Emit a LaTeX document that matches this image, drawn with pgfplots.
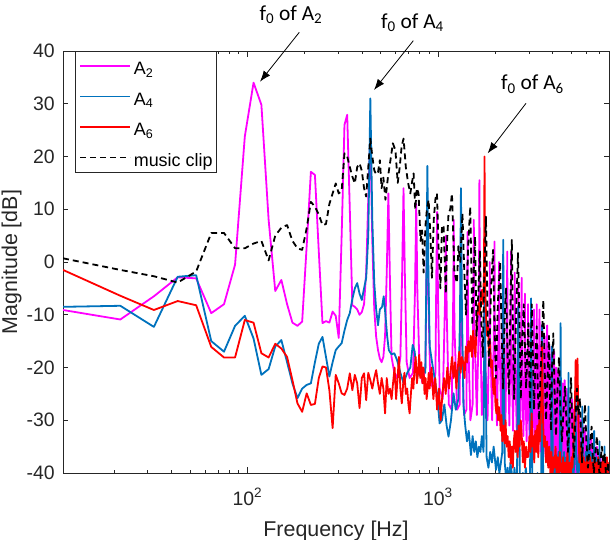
\documentclass[border=0pt]{standalone}
\usepackage{pgfplots}
\pgfplotsset{compat=1.18}
\usetikzlibrary{arrows.meta}
\usepackage{fontspec}
\setmainfont{Liberation Sans}
\newfontfamily\annot{Carlito}
\definecolor{axgray}{rgb}{0.15,0.15,0.15}
\definecolor{mpink}{rgb}{1,0,1}
\definecolor{mblue}{rgb}{0,0.447,0.741}
\definecolor{mred}{rgb}{1,0,0}
\begin{document}
\begin{tikzpicture}
\useasboundingbox (0,0) rectangle (612bp,540bp);
\begin{axis}[
  at={(63bp,67bp)}, anchor=south west,
  width=546bp, height=422bp, scale only axis,
  xmode=log, xmin=10.77, xmax=7900, ymin=-40, ymax=40,
  xtick={100,1000}, xticklabels={10\textsuperscript{2},10\textsuperscript{3}},
  minor xtick={20,30,40,50,60,70,80,90,200,300,400,500,600,700,800,900,2000,3000,4000,5000,6000,7000},
  ytick={-40,-30,-20,-10,0,10,20,30,40},
  yticklabels={-40,-30,-20,-10,0,10,20,30,40},
  tick align=inside, major tick length=5.5bp, minor tick length=3bp,
  axis line style={draw=axgray, line width=0.7bp},
  every tick/.style={draw=axgray, line width=0.7bp},
  tick label style={font=\fontsize{19.5}{22}\selectfont, color=axgray, inner sep=0pt},
  yticklabel style={xshift=-8bp},
  xticklabel style={yshift=-15bp},
  xlabel={Frequency [Hz]}, ylabel={Magnitude [dB]},
  label style={font=\fontsize{21.5}{25}\selectfont, color=axgray, inner sep=0pt},
  xlabel style={at={(axis description cs:0.5,-0.15166)}, anchor=base},
  ylabel style={at={(axis description cs:-0.08425,0.5)}, anchor=base},
  legend cell align=left,
  legend style={at={(axis description cs:0.022,1)}, anchor=north west,
    draw=axgray, line width=0.6bp, fill=white,
    font=\fontsize{18}{20}\selectfont,
    inner xsep=4bp, inner ysep=6.3bp, row sep=13.5bp, column sep=3bp,
    nodes={inner sep=0pt, text height=17bp, text depth=0bp}},
  legend image code/.code={\draw[#1, line width=1.5bp] (0bp,0bp) -- (50bp,0bp);},
  every axis plot/.append style={line width=1.8bp, line join=round},
]
\addplot[mpink] coordinates {
(10.77,-9.1) (21.53,-10.9) (32.30,-6.5) (43.07,-2.9) (53.83,-3.1) (64.60,-9.7) (75.37,-8.0) (86.13,-0.5) (96.90,23.8) (107.7,34.0) (118.4,29.8) (129.2,8.0) (140.0,-5.5) (150.7,-3.4) (161.5,-8.0) (172.3,-11.5) (183.1,-12.1) (193.8,-11.3) (204.6,3.0) (215.3,17.1) (226.1,16.5) (236.9,2.0) (247.7,-11.6) (258.4,-11.2) (269.2,-11.5) (280.0,-9.4) (290.7,-10.2) (301.5,-14.4) (312.3,5.0) (323.1,26.0) (333.9,27.9) (344.6,10.0) (355.4,-8.2) (366.2,-8.5) (376.9,-9.0) (387.7,-10.0) (398.5,-9.5) (409.3,-8.0) (420.0,-2.0) (430.8,12.0) (441.6,24.0) (452.3,4.0) (463.1,-9.0) (473.9,-14.2) (484.6,-16.7) (495.4,-18.3) (506.2,-19.0) (517.0,-18.0) (527.7,-14.0) (538.5,-2.0) (549.3,13.0) (560.0,-4.0) (570.8,-18.0) (590,-21) (610,-22) (635,-18) (648,-3) (659.5,14) (670,-2) (685,-19) (710,-22) (740,-21) (758,-5) (769,11) (780,-6) (800,-20) (830,-23) (860,-20) (868,-5) (880,9) (892,-8) (910,-22) (940,-24) (970,-21) (980,-3) (990,9.5) (1000,-6) (1020,-24) (1060,-26) (1088,-8) (1100,5) (1112,-10) (1140,-27) (1180,-28) (1200,-10) (1210,8) (1220,-12) (1260,-28) (1300,-27) (1310,-8) (1320,6) (1330,-12) (1370,-29) (1410,-28) (1422,-10) (1430,5.7) (1440,-14) (1480,-30) (1520,-27) (1532,-8) (1542,8) (1552,-12) (1600,-29) (1640,-10) (1650,15.5) (1660,-8) (1700,-29) (1745,-20) (1760,3) (1775,-20) (1820,-30) (1862,-12) (1870,0) (1880,-14) (1925,-30) (1972,-10) (1980,3.9) (1990,-13) (2040,-31) (2082,-10) (2090,0) (2100,-14) (2150,-30) (2192,-8) (2200,1) (2210,-15) (2260,-31) (2303,-6) (2310,2) (2318,-14) (2370,-31) (2413,-6) (2420,2) (2428,-16) (2480,-32) (2523,-8) (2530,-2) (2538,-18) (2590,-32) (2633,-10) (2640,-4) (2648,-20) (2700,-33) (2743,-8) (2750,-3) (2757,-20) (2810,-33) (2853,-12) (2860,-6) (2867,-22) (2920,-34) (2963,-14) (2970,-8) (2977,-24) (3030,-34) (3073,-12) (3080,-7) (3087,-24) (3140,-35) (3183,-14) (3190,-9) (3197,-25) (3250,-35) (3293,-12) (3300,-8) (3307,-25) (3355,-36)
(3410,-9) (3465,-36) (3520,-12) (3575,-37) (3630,-14) (3685,-36) (3740,-12) (3795,-38) (3850,-16) (3905,-37) (3960,-18) (4015,-39) (4070,-17) (4125,-38) (4180,-20) (4235,-40) (4290,-21) (4345,-39) (4400,-22) (4455,-41) (4510,-23) (4565,-40) (4620,-22.4) (4675,-42) (4730,-24) (4785,-40) (4840,-25) (4895,-42) (4950,-27) (5005,-41) (5060,-26) (5115,-43) (5170,-28) (5225,-41) (5280,-27) (5335,-43) (5390,-29) (5445,-42) (5500,-28) (5555,-44) (5610,-30) (5665,-42) (5720,-30) (5775,-44) (5830,-32) (5885,-43) (5940,-31) (5995,-45) (6050,-33) (6105,-43) (6160,-32) (6215,-45) (6270,-34) (6325,-44) (6380,-33) (6435,-46) (6490,-35) (6545,-44) (6600,-34) (6655,-46) (6710,-36) (6765,-45) (6820,-35) (6875,-47) (6930,-37) (6985,-45) (7040,-36) (7095,-47) (7150,-37) (7205,-46) (7260,-38) (7315,-47) (7370,-37) (7425,-46) (7480,-38) (7535,-48) (7590,-39) (7645,-46) (7700,-38) (7755,-47) (7810,-39) (7865,-47) (7920,-39)
};
\addlegendentry{A\textsubscript{2}}
\addplot[mblue] coordinates {
(10.77,-8.5) (21.53,-8.3) (32.30,-12.3) (43.07,-2.8) (53.83,-2.5) (64.60,-15.0) (75.37,-17.0) (86.13,-12.1) (96.90,-10.2) (107.7,-14.5) (118.4,-21.4) (129.2,-20.3) (140.0,-16.0) (150.7,-14.8) (161.5,-19.0) (172.3,-23.0) (183.1,-25.8) (193.8,-24.0) (204.6,-23.3) (215.3,-23.0) (226.1,-19.0) (236.9,-15.5) (247.7,-14.2) (258.4,-18.0) (269.2,-21.7) (280.0,-19.0) (290.7,-16.7) (301.5,-16.0) (312.3,-15.4) (323.1,-13.0) (333.9,-11.0) (344.6,-9.7) (355.4,-7.0) (366.2,-5.0) (376.9,-4.0) (387.7,-6.0) (398.5,-7.2) (409.3,-5.0) (420.0,-3.0) (430.8,5.0) (441.6,31.0) (452.3,8.0) (463.1,-4.0) (473.9,-9.0) (484.6,-12.0) (495.4,-9.0) (509,-8.5) (519,-6.5) (530,-10) (541,-14) (552,-16.7) (570,-17.5) (590,-17.3) (610,-18.6) (635,-21) (660,-23) (690,-21) (716,-20) (737,-15.7) (755,-17) (776,-22) (800,-20) (830,-20) (858,-21) (869,-3) (880,18.2) (891,-2) (905,-16) (930,-18.9) (960,-22) (988,-24.9) (1020,-30.6) (1049,-30) (1080,-27) (1110,-31) (1136,-33.1) (1170,-30) (1207,-24.9) (1240,-28) (1280,-26) (1305,-10) (1320,14) (1335,-8) (1360,-27) (1390,-31) (1420,-34) (1450,-32) (1490,-36.6) (1520,-33) (1550,-36) (1580,-34) (1610,-37) (1640,-35) (1670,-36) (1700,-33) (1735,-36) (1750,-15) (1760,5) (1770,-15) (1800,-37) (1840,-39) (1880,-36) (1920,-38) (1960,-35) (2016,-39.4) (2060,-37) (2100,-40) (2140,-38) (2175,-36) (2190,-10) (2200,4.2) (2210,-10) (2240,-38) (2280,-41) (2320,-39) (2360,-42) (2400,-38) (2440,-40) (2480,-43) (2520,-39) (2560,-42) (2600,-40) (2630,-15) (2640,-8.5) (2650,-15) (2690,-41) (2740,-44) (2790,-40) (2840,-43) (2890,-39) (2940,-42) (2990,-41) (3040,-43) (3070,-15) (3080,-6.9) (3090,-15) (3130,-42) (3180,-45) (3230,-41) (3280,-44) (3330,-40) (3380,-43) (3430,-42) (3480,-44) (3510,-20) (3520,-12) (3530,-20) (3570,-43) (3620,-46) (3680,-42) (3740,-45) (3800,-43) (3860,-46) (3920,-42) (3950,-24) (3960,-16) (3970,-24) (4010,-38) (4080,-42) (4150,-37) (4220,-41) (4290,-36) (4350,-40) (4390,-20) (4400,-11.6) (4410,-20) (4450,-38) (4520,-41) (4590,-36) (4660,-40) (4730,-37) (4790,-39) (4830,-28) (4840,-21) (4850,-28) (4890,-38) (4980,-42) (5060,-37) (5140,-41) (5220,-36) (5270,-32) (5280,-26) (5290,-32) (5330,-38) (5420,-41) (5500,-36) (5600,-40) (5660,-37) (5710,-33) (5720,-27.4) (5730,-33) (5770,-38) (5870,-42) (5960,-36) (6050,-39) (6150,-33) (6160,-27.4) (6170,-33) (6220,-40) (6330,-36) (6440,-41) (6520,-37) (6590,-36) (6600,-32) (6610,-36) (6660,-40) (6800,-37) (6950,-41) (7030,-37) (7040,-34) (7050,-37) (7100,-41) (7200,-38) (7300,-40) (7470,-38) (7480,-35) (7490,-38) (7600,-41) (7750,-38) (7900,-40)
};
\addlegendentry{A\textsubscript{4}}
\addplot[mred] coordinates {
(10.77,-1.5) (21.53,-6.4) (32.30,-9.1) (43.07,-7.4) (53.83,-8.2) (64.60,-16.1) (75.37,-18.1) (86.13,-18.1) (96.90,-11.0) (107.7,-11.5) (118.4,-17.3) (129.2,-18.1) (140.0,-15.5) (150.7,-16.4) (161.5,-18.0) (172.3,-22.4) (183.1,-26.8) (193.8,-28.4) (204.6,-24.9) (215.3,-27.1) (226.1,-26.9) (236.9,-22.0) (247.7,-19.8) (258.4,-20.0) (269.2,-24.3) (280.0,-31.5) (290.7,-21.4) (301.5,-23.0) (312.3,-24.9) (323.1,-25.2) (333.9,-24.0) (344.6,-21.1) (355.4,-24.3) (366.2,-21.4) (376.9,-23.0) (387.7,-27.7) (398.5,-22.0) (409.3,-21.1) (420.0,-26.2) (430.8,-21.0) (441.6,-22.4) (452.3,-24.0) (463.1,-22.0) (473.9,-20.5) (484.6,-23.0) (495.4,-25.0) (506.2,-22.0) (517.0,-24.0) (527.7,-28.7) (538.5,-22.0) (549.3,-25.0) (560,-24) (571,-26) (581,-23) (592,-20) (603,-26) (614,-22) (624,-18) (635,-24) (646,-26.8) (657,-23) (667,-21) (678,-25) (689,-24) (700,-27) (710,-28.7) (721,-25) (732,-22) (743,-24) (754,-20) (764,-18) (775,-23) (786,-21) (797,-17.6) (807,-22) (818,-19) (829,-23) (840,-20) (850,-25) (861,-22) (872,-26) (883,-24) (894,-21) (904,-24) (925,-20) (946,-26) (968,-22) (990,-28) (1012,-24) (1034,-30) (1055,-25) (1077,-22) (1098,-25) (1120,-20) (1142,-24) (1163,-21) (1185,-18) (1206,-22) (1228,-19) (1250,-24) (1271,-20) (1293,-17) (1314,-21) (1336,-18) (1357,-19) (1379,-22) (1400,-16) (1422,-19) (1443,-15) (1465,-17) (1486,-14) (1508,-18) (1530,-13) (1551,-16) (1573,-18) (1594,-12) (1616,-9) (1637,-7.8) (1659,-10) (1680,-6) (1702,-5.3) (1723,-8) (1744,-2) (1755.5,20) (1766,-3) (1788,-10.4) (1810,-14) (1831,-12) (1853,-17) (1874,-15) (1896,-20) (1918,-18.6) (1939,-23) (1960,-25) (1982,-22) (2003,-27) (2025,-28.7) (2046,-26) (2068,-30) (2090,-27.5) (2111,-29) (2133,-32) (2154,-29) (2176,-34) (2197,-31) (2219,-33) (2241,-34.4) (2262,-30) (2290,-35) (2320,-33) (2350,-37) (2380,-34) (2410,-38.2) (2440,-35) (2470,-39) (2500,-34) (2530,-32) (2560,-36) (2593,-32) (2620,-37) (2650,-31) (2680,-35) (2720,-30) (2753,-33) (2790,-38) (2820,-34) (2860,-39) (2900,-35) (2940,-37) (2981,-36.9) (3020,-33) (3060,-36) (3100,-28.7) (3140,-35) (3167,-33) (3200,-38) (3240,-32) (3280,-36) (3320,-31) (3360,-37) (3400,-30) (3440,-34) (3480,-26) (3505,-20) (3520,-16) (3535,-22) (3560,-30) (3600,-35) (3640,-33) (3690,-38) (3740,-34) (3790,-39) (3840,-35) (3890,-40) (3940,-36) (3990,-41) (4040,-37) (4090,-39) (4140,-35) (4190,-40) (4240,-37) (4300,-42) (4360,-36) (4420,-39) (4480,-41) (4540,-37) (4600,-42) (4660,-38) (4720,-40) (4780,-36) (4840,-41) (4900,-38) (4960,-42) (5020,-37) (5080,-39) (5140,-35) (5200,-30) (5250,-24) (5280,-18.6) (5310,-26) (5340,-22) (5400,-18.3) (5440,-28) (5480,-33) (5520,-38) (5580,-35) (5640,-40) (5700,-36) (5760,-41) (5820,-37) (5880,-42) (5940,-38) (6000,-40) (6060,-37) (6120,-42) (6180,-38) (6240,-41) (6300,-37) (6380,-43) (6460,-38) (6540,-41) (6620,-37) (6700,-42) (6780,-38) (6860,-40) (6940,-37) (7020,-39) (7100,-42) (7180,-38) (7260,-41) (7340,-37.5) (7420,-40) (7500,-38) (7600,-42) (7700,-37) (7800,-40) (7900,-38)
};
\addlegendentry{A\textsubscript{6}}
\addplot[black, dash pattern=on 6bp off 4bp] coordinates {
(10.77,0.7) (21.53,-1.5) (32.30,-2.7) (43.07,-3.9) (53.83,-1.8) (64.60,5.5) (75.37,5.5) (86.13,2.6) (96.90,2.6) (107.7,3.5) (118.4,4.0) (129.2,0.3) (140.0,5.0) (150.7,6.5) (161.5,7.0) (172.3,4.0) (183.1,2.6) (193.8,2.3) (204.6,6.4) (215.3,11.4) (226.1,10.5) (236.9,9.0) (247.7,7.0) (258.4,7.2) (269.2,11.0) (280.0,13.0) (290.7,14.9) (301.5,13.0) (312.3,13.5) (323.1,20.6) (333.9,20.0) (344.6,18.0) (355.4,16.2) (366.2,14.9) (376.9,18.0) (387.7,18.7) (398.5,17.3) (409.3,14.0) (420.0,12.4) (430.8,18.0) (441.6,23.4) (452.3,20.0) (463.1,17.4) (473.9,16.6) (484.6,17.0) (495.4,19.3) (506,14) (517,16) (530,11.8) (546,16) (563,19.3) (580,22.5) (598,21.2) (615,15) (630,18) (645,22) (660,23.4) (678,18) (697,15) (716,13) (730,15) (745,16.8) (760,10) (775,14) (791,13) (810,4) (825,6) (841,-2) (860,7) (875,10) (893,11.8) (910,6) (930,-3) (950,8) (970,12) (988,13) (1007,2.9) (1030,-5) (1050,7) (1070,6.7) (1100,-6) (1120,5) (1136,9.2) (1160,10) (1184,13) (1220,-2) (1258,-4) (1280,3) (1309,0) (1344,9.2) (1375,-2) (1404,-10) (1440,3) (1477,10.5) (1515,-12) (1540,-2) (1565,4.8) (1595,-14) (1620,-8) (1660,2) (1690,-12) (1720,-18) (1750,-2) (1786,8.6) (1820,-10) (1855,-20) (1900,-5) (1946,2.3) (1980,-12) (2015,-22) (2060,-8) (2119,0) (2160,-14) (2195,-24) (2240,-10) (2277,-5) (2320,-18) (2360,-25) (2400,-8) (2441,4.2) (2480,-15) (2510,-26) (2570,-10) (2630,1.7) (2680,-12) (2720,-26) (2770,-14) (2820,-8) (2900,-24) (2981,-11.6) (3040,-28) (3106,-8) (3150,-18) (3193,-28) (3240,-20) (3299,-12.2) (3340,-24) (3391,-30) (3480,-18) (3572,-7.2) (3630,-20) (3690,-30) (3760,-22) (3825,-14) (3870,-26) (3919,-32) (3970,-20) (4029,-13.5) (4090,-24) (4163,-33) (4240,-24) (4316,-18) (4390,-28) (4475,-34) (4560,-28) (4640,-23.6) (4720,-30) (4811,-36) (4900,-30) (4988,-22) (5080,-32) (5172,-37) (5260,-30) (5362,-24) (5460,-29) (5560,-25.8) (5630,-33) (5696,-38) (5800,-32) (5906,-27) (6010,-34) (6124,-39) (6260,-35) (6404,-31.2) (6490,-37) (6584,-40) (6700,-36) (6826,-33) (6950,-38) (7077,-41) (7160,-37) (7248,-35) (7380,-38) (7516,-36.3) (7600,-40) (7699,-42) (7800,-38) (7888,-40)
};
\addlegendentry{music clip}
\end{axis}
\begin{scope}[line width=0.8bp, -{Latex[length=11bp,width=8bp]}]
\draw (299.3bp,507.7bp) -- (260bp,458.3bp);
\draw (413.3bp,499.3bp) -- (374bp,450bp);
\draw (526bp,436.7bp) -- (487.7bp,386.7bp);
\end{scope}
\begin{scope}[every node/.style={anchor=base, inner sep=0pt, font=\annot\fontsize{21.5}{24}\selectfont}]
\node at (291bp,519.3bp) {f\textsubscript{0} of A\textsubscript{2}};
\node at (412.5bp,511.7bp) {f\textsubscript{0} of A\textsubscript{4}};
\node at (532.5bp,450bp) {f\textsubscript{0} of A\textsubscript{6}};
\end{scope}
\end{tikzpicture}
\end{document}
